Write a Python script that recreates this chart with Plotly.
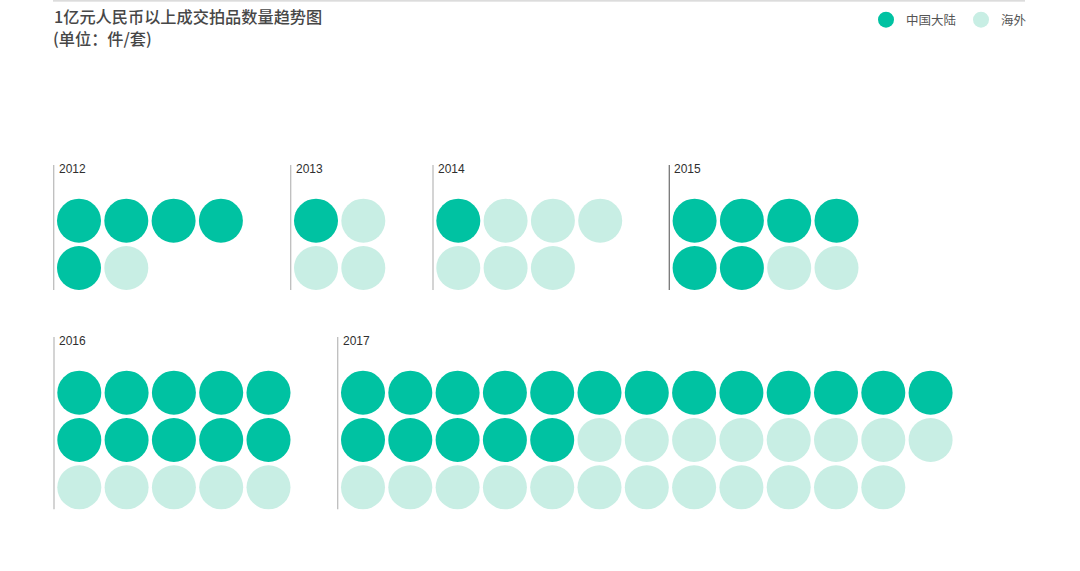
import plotly.graph_objects as go

# data
years = ["2012", "2013", "2014", "2015", "2016", "2017"]
mainland = [5, 1, 1, 6, 10, 18]
overseas = [1, 3, 6, 2, 5, 20]
per_row = [4, 2, 4, 4, 5, 13]

# layout of each year block (pixel coordinates of the divider line)
block_x = [53.7, 290.7, 433.0, 669.3, 54.0, 337.7]
block_top = [165, 165, 165, 165, 337, 337]

W, H = 1080, 571
STEP = 47.3
DOT = 44
DARK = "#00c2a2"
LIGHT = "#c8eee4"


def dot_positions(i):
    """Grid positions for one year's dots, mainland first then overseas."""
    xs, ys = [], []
    total = mainland[i] + overseas[i]
    x0 = block_x[i] + 25.3
    y0 = block_top[i] + 55.7
    for k in range(total):
        xs.append(x0 + (k % per_row[i]) * STEP)
        ys.append(y0 + (k // per_row[i]) * STEP)
    return xs, ys


fig = go.Figure()

mx, my, ox, oy = [], [], [], []
shapes = []
annotations = []
for i, year in enumerate(years):
    xs, ys = dot_positions(i)
    n = mainland[i]
    mx += xs[:n]
    my += ys[:n]
    ox += xs[n:]
    oy += ys[n:]
    shapes.append(dict(type="line", xref="x", yref="y",
                       x0=block_x[i], x1=block_x[i],
                       y0=block_top[i], y1=max(ys) + 22,
                       line=dict(color="#777777" if year == "2015" else "#bdbdbd", width=1.3)))
    annotations.append(dict(x=block_x[i] + 3, y=block_top[i] + 4, xref="x", yref="y",
                            text=year, showarrow=False, xanchor="left", yanchor="middle",
                            font=dict(family="Liberation Sans, Arial", size=12, color="#2f2f2f")))

fig.add_trace(go.Scatter(x=mx, y=my, mode="markers", name="中国大陆",
                         marker=dict(size=DOT, color=DARK, line=dict(width=0)),
                         hoverinfo="skip"))
fig.add_trace(go.Scatter(x=ox, y=oy, mode="markers", name="海外",
                         marker=dict(size=DOT, color=LIGHT, line=dict(width=0)),
                         hoverinfo="skip"))

# thin rule at the top
shapes.append(dict(type="line", xref="x", yref="y", x0=53, x1=1025, y0=0.8, y1=0.8,
                   line=dict(color="#d0d0d0", width=1.2)))

annotations.append(dict(x=52, y=16, xref="x", yref="y", text="1亿元人民币以上成交拍品数量趋势图",
                        showarrow=False, xanchor="left", yanchor="middle",
                        font=dict(family="Noto Sans CJK SC", size=16.2, color="#474747", weight=500)))
annotations.append(dict(x=51, y=38, xref="x", yref="y", text="(单位：件/套)",
                        showarrow=False, xanchor="left", yanchor="middle",
                        font=dict(family="Noto Sans CJK SC", size=16.2, color="#474747", weight=500)))

fig.update_layout(
    width=W, height=H,
    margin=dict(l=0, r=0, t=0, b=0),
    paper_bgcolor="white", plot_bgcolor="white",
    xaxis=dict(range=[0, W], visible=False, fixedrange=True),
    yaxis=dict(range=[H, 0], visible=False, fixedrange=True),
    shapes=shapes,
    annotations=annotations,
    showlegend=True,
    legend=dict(orientation="h", x=1032 / W, xanchor="right", y=1 - 5 / H, yanchor="top",
                font=dict(family="Noto Sans CJK SC", size=12.5, color="#555555"),
                itemsizing="trace", itemwidth=30, bgcolor="rgba(0,0,0,0)"),
)

# drop the default body margin so the figure sits at the page corner
fig.write_html("out.html", config={"displayModeBar": False},
               post_script="document.body.style.margin = '0';")
